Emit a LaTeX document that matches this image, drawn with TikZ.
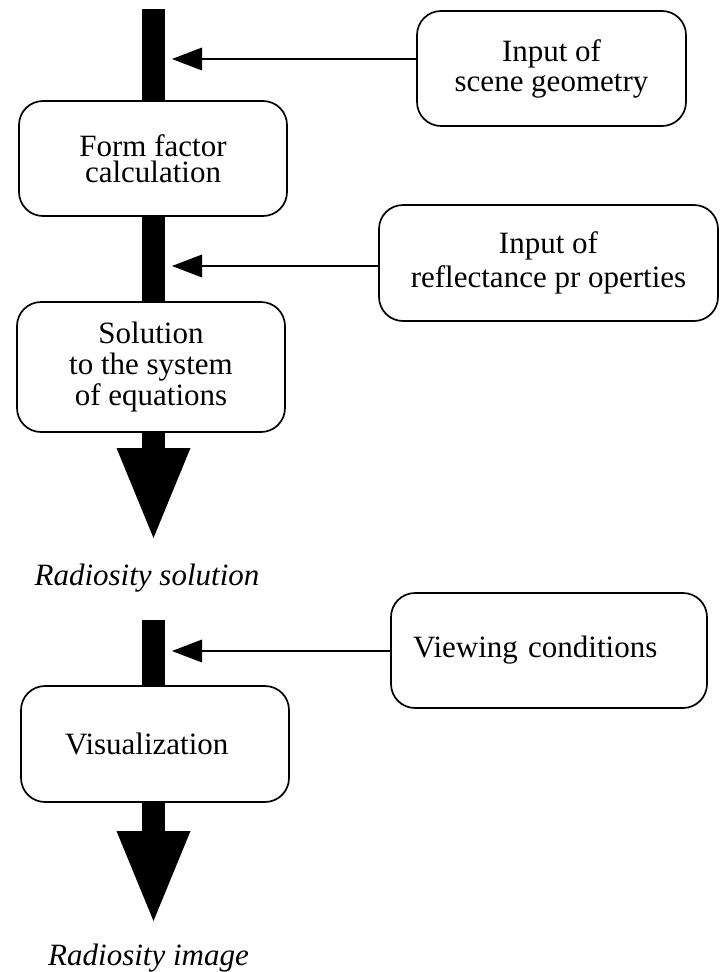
\documentclass[tikz,border=0pt]{standalone}
\usepackage{fontspec}
\setmainfont{Liberation Serif}
\usetikzlibrary{arrows.meta}
\begin{document}
\begin{tikzpicture}[x=1pt,y=-1pt,
  box/.style={draw, fill=white, line width=1.7pt, rounded corners=24pt, align=center, inner sep=0pt},
  bar/.style={line width=23pt, line cap=butt},
  bigarrow/.style={bar, -{Triangle[width=74pt,length=90pt,line width=0pt]}},
  feed/.style={line width=1.5pt, -{Triangle[width=23pt,length=30pt,line width=0pt]}},
  lab/.style={font=\fontsize{31}{31}\selectfont\itshape, anchor=base, inner sep=0pt}
]
\useasboundingbox (0,0) rectangle (722,972);
\coordinate (top) at (153.5,9);
\coordinate (tip1) at (153.5,538);
\coordinate (top2) at (153.5,620);
\coordinate (tip2) at (153.5,921);
% main boxes
\node[box, minimum width=268pt, minimum height=115pt, font=\fontsize{31}{26.5}\selectfont] (ff) at (153,158.5) {Form factor\\calculation};
\node[box, minimum width=268pt, minimum height=130pt, font=\fontsize{31}{31}\selectfont] (sol) at (151,367) {Solution\\to the system\\of equations};
\node[box, minimum width=268pt, minimum height=116pt, font=\fontsize{31}{31}\selectfont, text width=180pt, inner xsep=44pt, align=left] (vis) at (155,744) {Visualization};
% input boxes
\node[box, minimum width=269pt, minimum height=115pt, font=\fontsize{31}{30}\selectfont] (in1) at (551.5,68.5) {Input of\\scene geometry};
\node[box, minimum width=339pt, minimum height=116pt, font=\fontsize{31}{34}\selectfont] (in2) at (548.5,263) {Input of\\reflectance pr\ operties};
\node[box, minimum width=316pt, minimum height=115pt, font=\fontsize{31}{31}\selectfont, text width=272pt, inner xsep=22pt, align=left] (vc) at (549,650.5) {Viewing conditions};
% bars
\draw[bar] (top) -- (top |- ff.north);
\draw[bar] (top |- ff.south) -- (top |- sol.north);
\draw[bigarrow] (top |- sol.south) -- (tip1);
\draw[bar] (top2) -- (top2 |- vis.north);
\draw[bigarrow] (top2 |- vis.south) -- (tip2);
% feed arrows
\coordinate (f1) at (172,59);
\coordinate (f2) at (172,266);
\coordinate (f3) at (172,651);
\draw[feed] (in1.west |- f1) -- (f1);
\draw[feed] (in2.west |- f2) -- (f2);
\draw[feed] (vc.west |- f3) -- (f3);
% labels
\node[lab] (rs) at (147,585) {Radiosity solution};
\node[lab] (ri) at (148.5,965) {Radiosity image};
\end{tikzpicture}
\end{document}
